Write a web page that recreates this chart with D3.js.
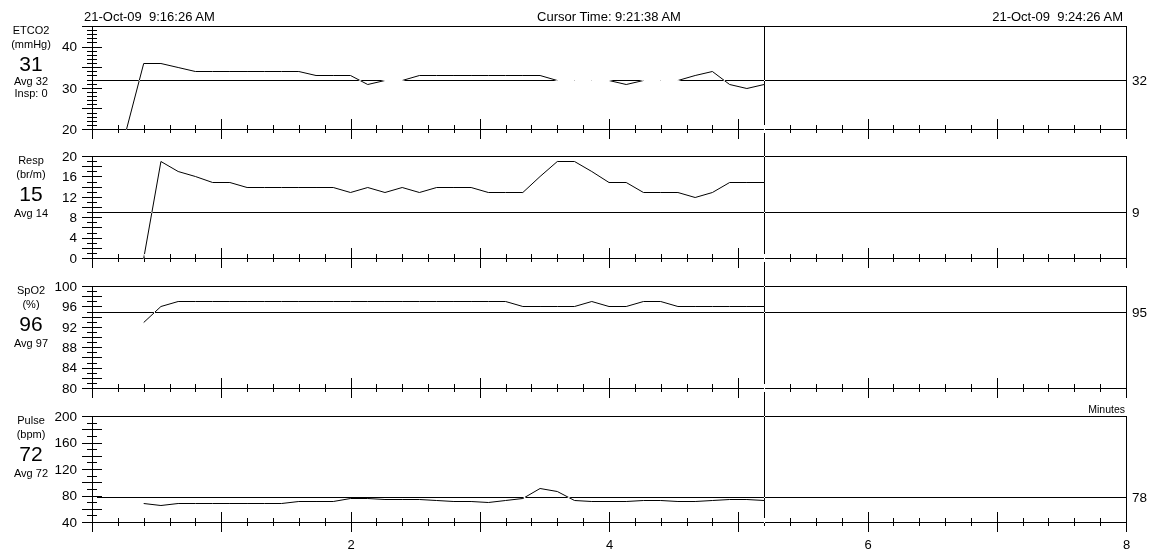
<!DOCTYPE html>
<html>
<head>
<meta charset="utf-8">
<script src="https://cdn.jsdelivr.net/npm/d3@7"></script>
<style>
  body { margin: 0; background: #fff; }
  svg text { font-family: "Liberation Sans", Arial, sans-serif; fill: #000; white-space: pre; }
</style>
</head>
<body>
<div id="chart"></div>
<script>
  var W = 1159, H = 555;

  // one sample every 8 seconds, times in minutes from the start
  var sampleMin = 8 / 60;

  // trend values read sample by sample, first sample index given by *Start
  var etco2Start = 2;
  var etco2 = [20, 36, 36, 35, 34, 34, 34, 34, 34, 34, 34, 33, 33, 33, 31, 32, 32, 33, 33, 33,
               33, 33, 33, 33, 33, 32, 32, 32, 32, 31, 32, 32, 32, 33, 34, 31, 30, 31];
  var respStart = 3;
  var resp = [0, 19, 17, 16, 15, 15, 14, 14, 14, 14, 14, 14, 13, 14, 13, 14, 13, 14, 14, 14,
              13, 13, 13, 16, 19, 19, 17, 15, 15, 13, 13, 13, 12, 13, 15, 15, 15];
  var spo2Start = 3;
  var spo2 = [93, 96, 97, 97, 97, 97, 97, 97, 97, 97, 97, 97, 97, 97, 97, 97, 97, 97, 97, 97,
              97, 97, 96, 96, 96, 96, 97, 96, 96, 97, 97, 96, 96, 96, 96, 96, 96];
  var pulseStart = 3;
  var pulse = [69, 65, 68, 68, 68, 68, 68, 68, 68, 72, 72, 72, 77, 77, 74, 74, 74, 73, 72, 72,
               70, 73, 77, 91, 87, 73, 72, 71, 71, 73, 73, 72, 72, 73, 74, 75, 73];

  var panelNames = ["ETCO2", "Resp", "SpO2", "Pulse"];
  var panelUnits = ["(mmHg)", "(br/m)", "(%)", "(bpm)"];
  var currentVals = ["31", "15", "96", "72"];
  var avgVals = ["Avg 32", "Avg 14", "Avg 97", "Avg 72"];
  var baselines = [32, 9, 95, 78];
  var yDomains = [[20, 45], [0, 20], [80, 100], [40, 200]];
  var yLabels = [[20, 30, 40], [0, 4, 8, 12, 16, 20], [80, 84, 88, 92, 96, 100], [40, 80, 120, 160, 200]];
  var yMinorStep = [1, 1, 1, 10];
  var yMajorStep = [5, 2, 2, 20];
  var xLabels = [2, 4, 6, 8];
  var headerLeft = "21-Oct-09  9:16:26 AM";
  var headerMid = "Cursor Time: 9:21:38 AM";
  var headerRight = "21-Oct-09  9:24:26 AM";
  var cursorMin = 5.2;

  var series = [[etco2, etco2Start], [resp, respStart], [spo2, spo2Start], [pulse, pulseStart]];

  // layout
  var panelTop = [26, 156, 286, 416],
      panelBottom = [129, 258, 388, 522];

  var svg = d3.select("#chart").append("svg")
      .attr("width", W)
      .attr("height", H);

  svg.append("rect")
      .attr("width", W)
      .attr("height", H)
      .attr("fill", "#fff");

  var x = d3.scaleLinear().domain([0, 8]).range([92, 1126]);

  var xMajor = d3.range(0, 9);
  var xMinor = d3.range(1, 40).filter(function(i) { return i % 5; }).map(function(i) { return i / 5; });

  function noDomain(g) { g.select(".domain").remove(); }

  var scales = [];

  panelNames.forEach(function(name, p) {
    var top = panelTop[p], bottom = panelBottom[p], dom = yDomains[p];
    var y = d3.scaleLinear().domain(dom).range([bottom, top]);
    scales.push(y);

    var g = svg.append("g").attr("class", "panel");

    // frame
    g.append("rect")
        .attr("x", x(0) + 0.5)
        .attr("y", top + 0.5)
        .attr("width", x(8) - x(0))
        .attr("height", bottom - top)
        .attr("fill", "none")
        .attr("stroke", "#000")
        .attr("shape-rendering", "crispEdges");

    // y ticks crossing the axis
    var all = d3.range(dom[0], dom[1] + 0.001, yMinorStep[p]);
    var maj = all.filter(function(v) { return (v - dom[0]) % yMajorStep[p] === 0; });
    var min = all.filter(function(v) { return (v - dom[0]) % yMajorStep[p] !== 0; });

    [[min, 5], [maj, 10]].forEach(function(t) {
      g.append("g").attr("transform", "translate(" + x(0) + ",0)")
          .attr("shape-rendering", "crispEdges")
          .call(d3.axisLeft(y).tickValues(t[0]).tickSize(t[1]).tickFormat(""))
          .call(noDomain);
      g.append("g").attr("transform", "translate(" + x(0) + ",0)")
          .attr("shape-rendering", "crispEdges")
          .call(d3.axisRight(y).tickValues(t[0]).tickSize(t[1]).tickFormat(""))
          .call(noDomain);
    });

    g.append("g").attr("transform", "translate(" + x(0) + ",0)")
        .call(d3.axisLeft(y).tickValues(yLabels[p]).tickSize(0).tickPadding(15))
        .call(noDomain)
        .attr("font-family", null)
        .selectAll("text").style("font-size", "13.5px");

    // x ticks crossing the axis
    [[xMinor, 4], [xMajor, 10]].forEach(function(t) {
      g.append("g").attr("transform", "translate(0," + bottom + ")")
          .attr("shape-rendering", "crispEdges")
          .call(d3.axisBottom(x).tickValues(t[0]).tickSize(t[1]).tickFormat(""))
          .call(noDomain);
      g.append("g").attr("transform", "translate(0," + bottom + ")")
          .attr("shape-rendering", "crispEdges")
          .call(d3.axisTop(x).tickValues(t[0]).tickSize(t[1]).tickFormat(""))
          .call(noDomain);
    });

    // left readout
    var cx = 31;
    var avgY = p === 0 ? top + 59 : top + 61;
    g.append("text").attr("x", cx).attr("y", top + 8).attr("text-anchor", "middle")
        .style("font-size", "11px").text(name);
    g.append("text").attr("x", cx).attr("y", top + 22).attr("text-anchor", "middle")
        .style("font-size", "11px").text(panelUnits[p]);
    g.append("text").attr("x", cx).attr("y", top + 45).attr("text-anchor", "middle")
        .style("font-size", "21px").text(currentVals[p]);
    g.append("text").attr("x", cx).attr("y", avgY).attr("text-anchor", "middle")
        .style("font-size", "11px").text(avgVals[p]);
    if (p === 0) {
      g.append("text").attr("x", cx).attr("y", top + 71).attr("text-anchor", "middle")
          .style("font-size", "11px").text("Insp: 0");
    }

    // baseline value on the right
    g.append("text").attr("x", x(8) + 6).attr("y", y(baselines[p]) + 5)
        .style("font-size", "13.5px").text(baselines[p]);
  });

  // minute labels under the last panel
  svg.append("g").attr("transform", "translate(0," + panelBottom[3] + ")")
      .call(d3.axisBottom(x).tickValues(xLabels).tickSize(0).tickPadding(18))
      .call(noDomain)
      .attr("font-family", null)
      .selectAll("text").style("font-size", "13px");

  svg.append("text").attr("x", x(8) - 1).attr("y", panelTop[3] - 3)
      .attr("text-anchor", "end").style("font-size", "10.5px").text("Minutes");

  // header
  svg.append("text").attr("x", 84).attr("y", 21).style("font-size", "13px").text(headerLeft);
  svg.append("text").attr("x", (x(0) + x(8)) / 2).attr("y", 21).attr("text-anchor", "middle")
      .style("font-size", "13px").text(headerMid);
  svg.append("text").attr("x", 1123).attr("y", 21).attr("text-anchor", "end")
      .style("font-size", "13px").text(headerRight);

  // trend lines, baselines and cursor drawn with an xor-like pen
  var xorLayer = svg.append("g");

  series.forEach(function(s, p) {
    var y = scales[p], base = baselines[p];
    var by = Math.round(y(base));
    // snap to pixel rows; only values equal to the baseline share its row
    var py = function(v) {
      var r = Math.round(y(v));
      if (v !== base && r === by) r += v > base ? -1 : 1;
      return r + 0.5;
    };
    var pts = s[0].map(function(v, i) { return {t: (s[1] + i) * sampleMin, v: v}; });

    xorLayer.append("line")
        .attr("x1", x(0) + 5)
        .attr("x2", x(8))
        .attr("y1", py(base))
        .attr("y2", py(base))
        .attr("stroke", "#fff")
        .style("mix-blend-mode", "difference");

    xorLayer.append("path")
        .datum(pts)
        .attr("d", d3.line()
            .x(function(d) { return x(d.t); })
            .y(function(d) { return py(d.v); }))
        .attr("fill", "none")
        .attr("stroke", "#fff")
        .attr("stroke-width", 1)
        .style("mix-blend-mode", "difference");
  });

  xorLayer.append("line")
      .attr("x1", x(cursorMin) + 0.5)
      .attr("x2", x(cursorMin) + 0.5)
      .attr("y1", panelTop[0] + 0.5)
      .attr("y2", panelBottom[3] + 0.5)
      .attr("stroke", "#fff")
      .attr("shape-rendering", "crispEdges")
      .style("mix-blend-mode", "difference");
</script>
</body>
</html>
